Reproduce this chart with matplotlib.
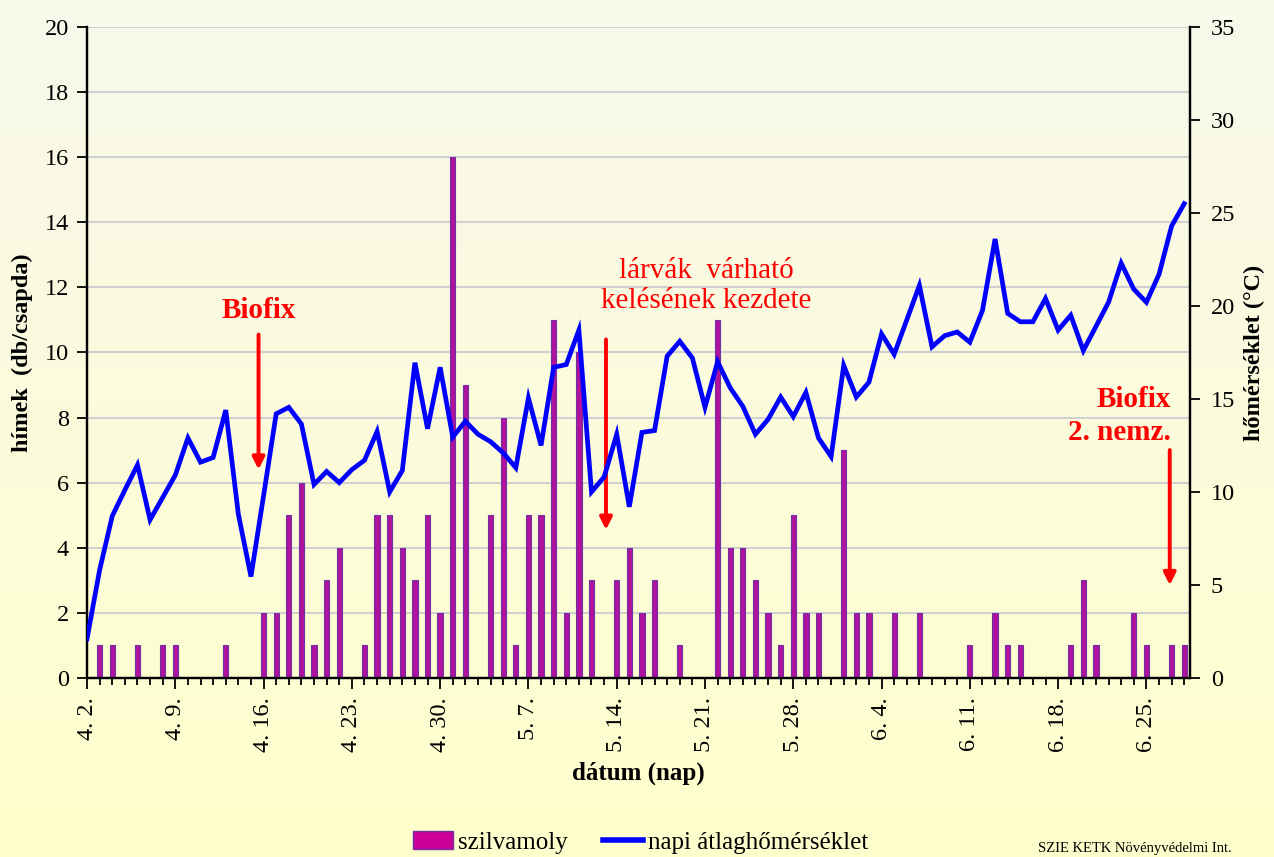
import numpy as np
import matplotlib
matplotlib.use('Agg')
import matplotlib.pyplot as plt
from matplotlib.colors import LinearSegmentedColormap
from matplotlib.patches import Patch
from matplotlib.lines import Line2D

plt.rcParams['font.family'] = 'Liberation Serif'

# szilvamoly fogások (db/csapda), 4.2. - 6.28. naponta
catches = [0, 1, 1, 0, 1, 0, 1, 1, 0, 0,
           0, 1, 0, 0, 2, 2, 5, 6, 1, 3,
           4, 0, 1, 5, 5, 4, 3, 5, 2, 16,
           9, 0, 5, 8, 1, 5, 5, 11, 2, 10,
           3, 0, 3, 4, 2, 3, 0, 1, 0, 0,
           11, 4, 4, 3, 2, 1, 5, 2, 2, 0,
           7, 2, 2, 0, 2, 0, 2, 0, 0, 0,
           1, 0, 2, 1, 1, 0, 0, 0, 1, 3,
           1, 0, 0, 2, 1, 0, 1, 1]

# napi átlaghőmérséklet (°C)
temps = [2.1, 5.8, 8.7, 10.1, 11.45, 8.5, 9.7, 10.9, 12.9, 11.6,
         11.85, 14.4, 8.8, 5.45, 9.8, 14.2, 14.55, 13.65, 10.4, 11.1,
         10.5, 11.2, 11.7, 13.25, 10.0, 11.15, 16.95, 13.4, 16.7, 12.95,
         13.8, 13.1, 12.7, 12.1, 11.3, 15.05, 12.5, 16.7, 16.85, 18.7,
         10.0, 10.8, 13.1, 9.2, 13.2, 13.3, 17.3, 18.1, 17.2, 14.55,
         17.0, 15.6, 14.6, 13.1, 13.9, 15.1, 14.05, 15.35, 12.9, 11.9,
         16.8, 15.1, 15.9, 18.5, 17.4, 19.25, 21.1, 17.8, 18.4, 18.6,
         18.05, 19.75, 23.6, 19.6, 19.15, 19.15, 20.4, 18.7, 19.5, 17.6,
         18.9, 20.2, 22.3, 20.9, 20.2, 21.7, 24.3, 25.5]

tick_labels = ['4. 2.', '4. 9.', '4. 16.', '4. 23.', '4. 30.', '5. 7.', '5. 14.',
               '5. 21.', '5. 28.', '6. 4.', '6. 11.', '6. 18.', '6. 25.']

x = np.arange(len(catches))
fs = 17.5

fig = plt.figure(figsize=(12.74, 8.57), dpi=100)

# background gradient
bg = fig.add_axes([0, 0, 1, 1], zorder=-10)
cmap = LinearSegmentedColormap.from_list('bg', ['#f8f8ec', '#ffffcc'])
bg.imshow(np.linspace(0, 1, 256).reshape(-1, 1), aspect='auto', cmap=cmap,
          extent=[0, 1, 0, 1])
bg.axis('off')

ax = fig.add_axes([0.0683, 0.209, 0.8657, 0.7595])
ax.set_facecolor('none')
ax.bar(x, catches, width=0.42, color='#b0129e', edgecolor='#7030a0', linewidth=0.8, zorder=3)
ax.set_ylim(0, 20)
ax.set_yticks(range(0, 21, 2))
ax.set_xlim(0, 87.45)
ax.yaxis.grid(True, color='#d0d0d0', linewidth=1.5, zorder=0)
ax.set_axisbelow(True)
ax.spines['top'].set_visible(False)
for s in ['left', 'right', 'bottom']:
    ax.spines[s].set_linewidth(1.6)

ax.set_xticks(np.arange(0, len(x), 7))
ax.set_xticklabels(tick_labels, rotation=90, fontsize=fs)
ax.set_xticks(x, minor=True)
ax.tick_params(axis='x', which='major', length=8, width=1.3, direction='out', pad=6)
ax.tick_params(axis='x', which='minor', length=5, width=1.3, direction='out')
ax.tick_params(axis='y', length=7, width=1.3, labelsize=fs, pad=6)
ax.set_ylabel('hímek  (db/csapda)', fontsize=fs, fontweight='bold', labelpad=8)
ax.set_xlabel('dátum (nap)', fontsize=18, fontweight='bold', labelpad=7)

ax2 = ax.twinx()
ax2.plot(x, temps, color='#0000ff', linewidth=3.4, zorder=5, solid_joinstyle='miter')
ax2.set_ylim(0, 35)
ax2.set_yticks(range(0, 36, 5))
ax2.spines['top'].set_visible(False)
for s in ['left', 'right', 'bottom']:
    ax2.spines[s].set_linewidth(1.6)
ax2.tick_params(axis='y', length=7, width=1.3, labelsize=fs, pad=8)
ax2.set_ylabel('hőmérséklet (°C)', fontsize=fs, fontweight='bold', labelpad=6)

# annotations (left axis data coordinates)
red = '#ff0000'
arrow = dict(arrowstyle='-|>', color=red, lw=2.8, mutation_scale=18, shrinkA=0, shrinkB=0)
ax.text(13.6, 11.3, 'Biofix', color=red, fontsize=21, fontweight='bold',
        ha='center', va='center', zorder=6)
ax.annotate('', xy=(13.6, 6.4), xytext=(13.6, 10.55), arrowprops=arrow, zorder=6)

ax.text(49.1, 12.05, 'lárvák  várható\nkelésének kezdete', color=red, fontsize=21,
        ha='center', va='center', linespacing=1.2, zorder=6)
ax.annotate('', xy=(41.15, 4.55), xytext=(41.15, 10.4), arrowprops=arrow, zorder=6)

ax.text(85.95, 8.05, 'Biofix\n2. nemz.', color=red, fontsize=21, fontweight='bold',
        ha='right', va='center', multialignment='right', linespacing=1.25, zorder=6)
ax.annotate('', xy=(85.85, 2.85), xytext=(85.85, 7.0), arrowprops=arrow, zorder=6)

handles = [Patch(facecolor='#cc0099', edgecolor='#7030a0', linewidth=1),
           Line2D([0], [0], color='#0000ff', linewidth=4)]
fig.legend(handles, ['szilvamoly', 'napi átlaghőmérséklet'], loc='center',
           bbox_to_anchor=(0.503, 0.017), ncol=2, frameon=False, fontsize=18,
           handlelength=1.6, handletextpad=0.2, columnspacing=1.4)

fig.text(0.815, 0.002, 'SZIE KETK Növényvédelmi Int.', fontsize=10.5, va='bottom', ha='left')

fig.savefig('out.png', dpi=100)
